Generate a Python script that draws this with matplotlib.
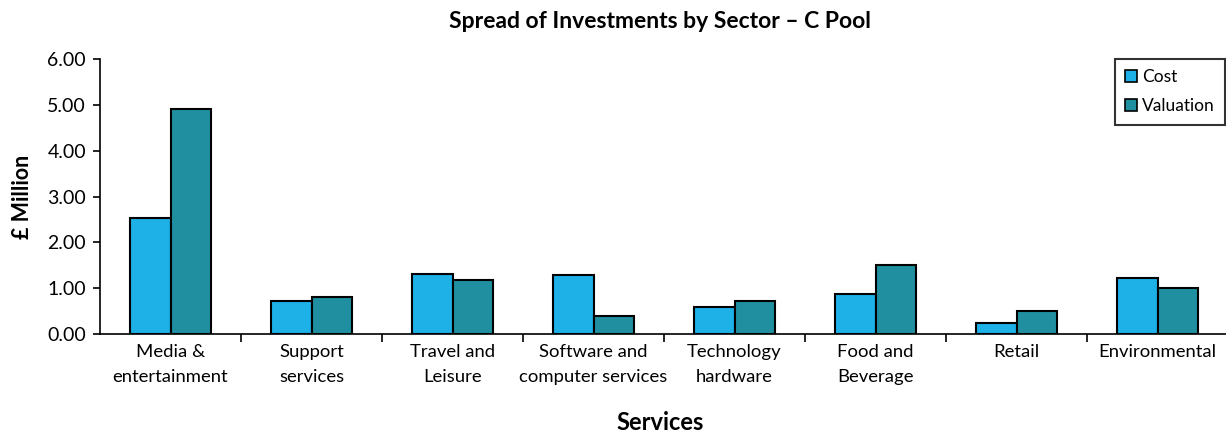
import matplotlib
matplotlib.use("Agg")
from matplotlib import pyplot as plt
import numpy as np

plt.rcParams['font.family'] = ['Lato', 'DejaVu Sans']

sectors = ["Media &\nentertainment", "Support\nservices", "Travel and\nLeisure",
           "Software and\ncomputer services", "Technology\nhardware", "Food and\nBeverage",
           "Retail", "Environmental"]
cost = [2.53, 0.73, 1.31, 1.29, 0.59, 0.88, 0.24, 1.23]
valuation = [4.90, 0.80, 1.18, 0.40, 0.72, 1.51, 0.51, 1.01]

fig = plt.figure(figsize=(12.26, 4.32), dpi=100)
ax = fig.add_axes([100/1226, 1 - 334/432, 1128/1226, 275/432])

x = np.arange(len(sectors))
w = 0.285
ax.bar(x - w/2, cost, w, color="#1db1e8", edgecolor="black", linewidth=1.5, label="Cost")
ax.bar(x + w/2, valuation, w, color="#2090a0", edgecolor="black", linewidth=1.5, label="Valuation")

ax.set_xlim(-0.5, len(sectors) - 0.5)
ax.set_ylim(0, 6)
ax.set_yticks(np.arange(0, 6.01, 1))
ax.set_yticklabels(["%.2f" % v for v in np.arange(0, 6.01, 1)], fontsize=14)

# ticks sit between the groups, labels sit under them
ax.set_xticks(np.arange(0.5, len(sectors) - 0.5, 1))
ax.set_xticklabels([])
ax.set_xticks(x, minor=True)
ax.set_xticklabels(sectors, minor=True, fontsize=13.3, linespacing=1.75)
ax.tick_params(axis="x", which="minor", length=0, pad=7)
ax.tick_params(axis="x", which="major", length=6, width=1.2, direction="out")
ax.tick_params(axis="y", length=5, width=1.2, direction="out", pad=5)

for s in ["top", "right"]:
    ax.spines[s].set_visible(False)
ax.spines["left"].set_linewidth(1.2)
ax.spines["bottom"].set_linewidth(1.2)

ax.set_ylabel("£ Million", fontsize=15.5, fontweight="bold", labelpad=10)
fig.text(660/1226, 1 - 422/432, "Services", ha="center", va="center", fontsize=17, fontweight="bold")
fig.text(660/1226, 1 - 22/432, "Spread of Investments by Sector – C Pool", ha="center", va="center",
         fontsize=16.5, fontweight="bold")

leg = ax.legend(loc="upper right", bbox_to_anchor=(1225/1226, 1 - 59/432), bbox_transform=fig.transFigure,
                fontsize=12.5, frameon=True, fancybox=False, handlelength=0.7, handleheight=0.7,
                handletextpad=0.25, borderpad=0.6, labelspacing=0.75, borderaxespad=0)
leg.get_frame().set_edgecolor("black")
leg.get_frame().set_linewidth(1.5)
for h in leg.legend_handles:
    h.set_linewidth(1.2)

plt.savefig("out.png", dpi=100)
